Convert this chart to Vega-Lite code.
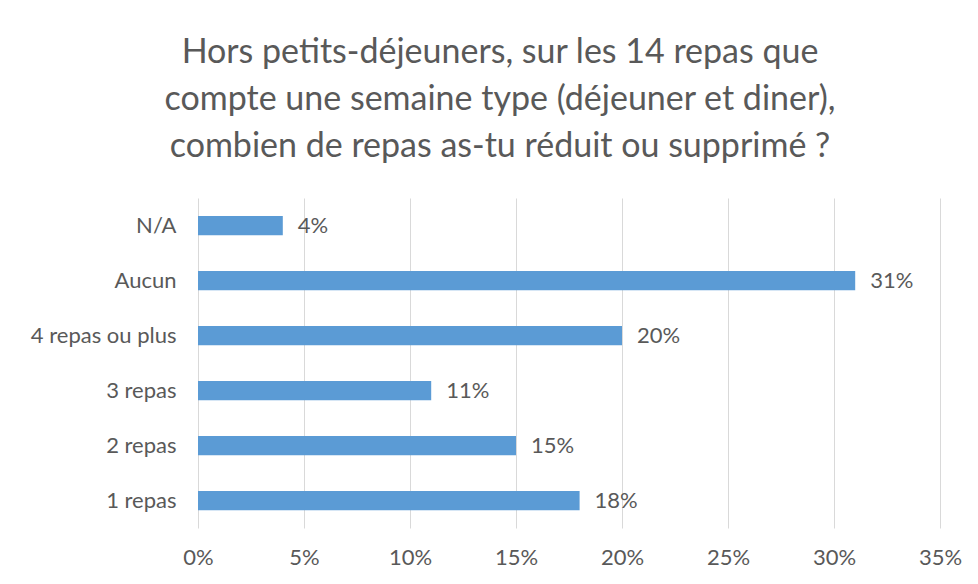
{
  "$schema": "https://vega.github.io/schema/vega-lite/v6.json",
  "width": 742,
  "height": 330,
  "autosize": {"type": "none"},
  "padding": {"left": 198, "top": 198, "right": 38, "bottom": 56},
  "background": "white",
  "title": {
    "text": ["Hors petits-déjeuners, sur les 14 repas que", "compte une semaine type (déjeuner et diner),", "combien de repas as-tu réduit ou supprimé ?"],
    "font": "Lato",
    "fontSize": 34,
    "fontWeight": "normal",
    "color": "#595959",
    "lineHeight": 47,
    "anchor": "middle",
    "dx": -69,
    "offset": 34
  },
  "data": {
    "values": [
      {"cat": "N/A", "v": 0.04},
      {"cat": "Aucun", "v": 0.31},
      {"cat": "4 repas ou plus", "v": 0.20},
      {"cat": "3 repas", "v": 0.11},
      {"cat": "2 repas", "v": 0.15},
      {"cat": "1 repas", "v": 0.18}
    ]
  },
  "encoding": {
    "y": {
      "field": "cat",
      "type": "nominal",
      "sort": ["N/A", "Aucun", "4 repas ou plus", "3 repas", "2 repas", "1 repas"],
      "scale": {"paddingInner": 0.65, "paddingOuter": 0.325},
      "axis": {"title": null, "domain": false, "ticks": false, "labelPadding": 22, "labelFont": "Lato", "labelFontSize": 22, "labelColor": "#595959"}
    },
    "x": {
      "field": "v",
      "type": "quantitative",
      "scale": {"domain": [0, 0.35], "nice": false},
      "axis": {"title": null, "format": ".0%", "values": [0, 0.05, 0.1, 0.15, 0.2, 0.25, 0.3, 0.35], "domain": false, "ticks": false, "labelFlush": false, "labelPadding": 19, "labelFont": "Lato", "labelFontSize": 22, "labelColor": "#595959", "gridColor": "#d9d9d9", "gridWidth": 1}
    }
  },
  "layer": [
    {"mark": {"type": "bar", "color": "#5b9bd5"}},
    {
      "mark": {"type": "text", "align": "left", "dx": 15, "font": "Lato", "fontSize": 22, "color": "#595959"},
      "encoding": {"text": {"field": "v", "type": "quantitative", "format": ".0%"}}
    }
  ],
  "config": {"view": {"stroke": null}}
}
